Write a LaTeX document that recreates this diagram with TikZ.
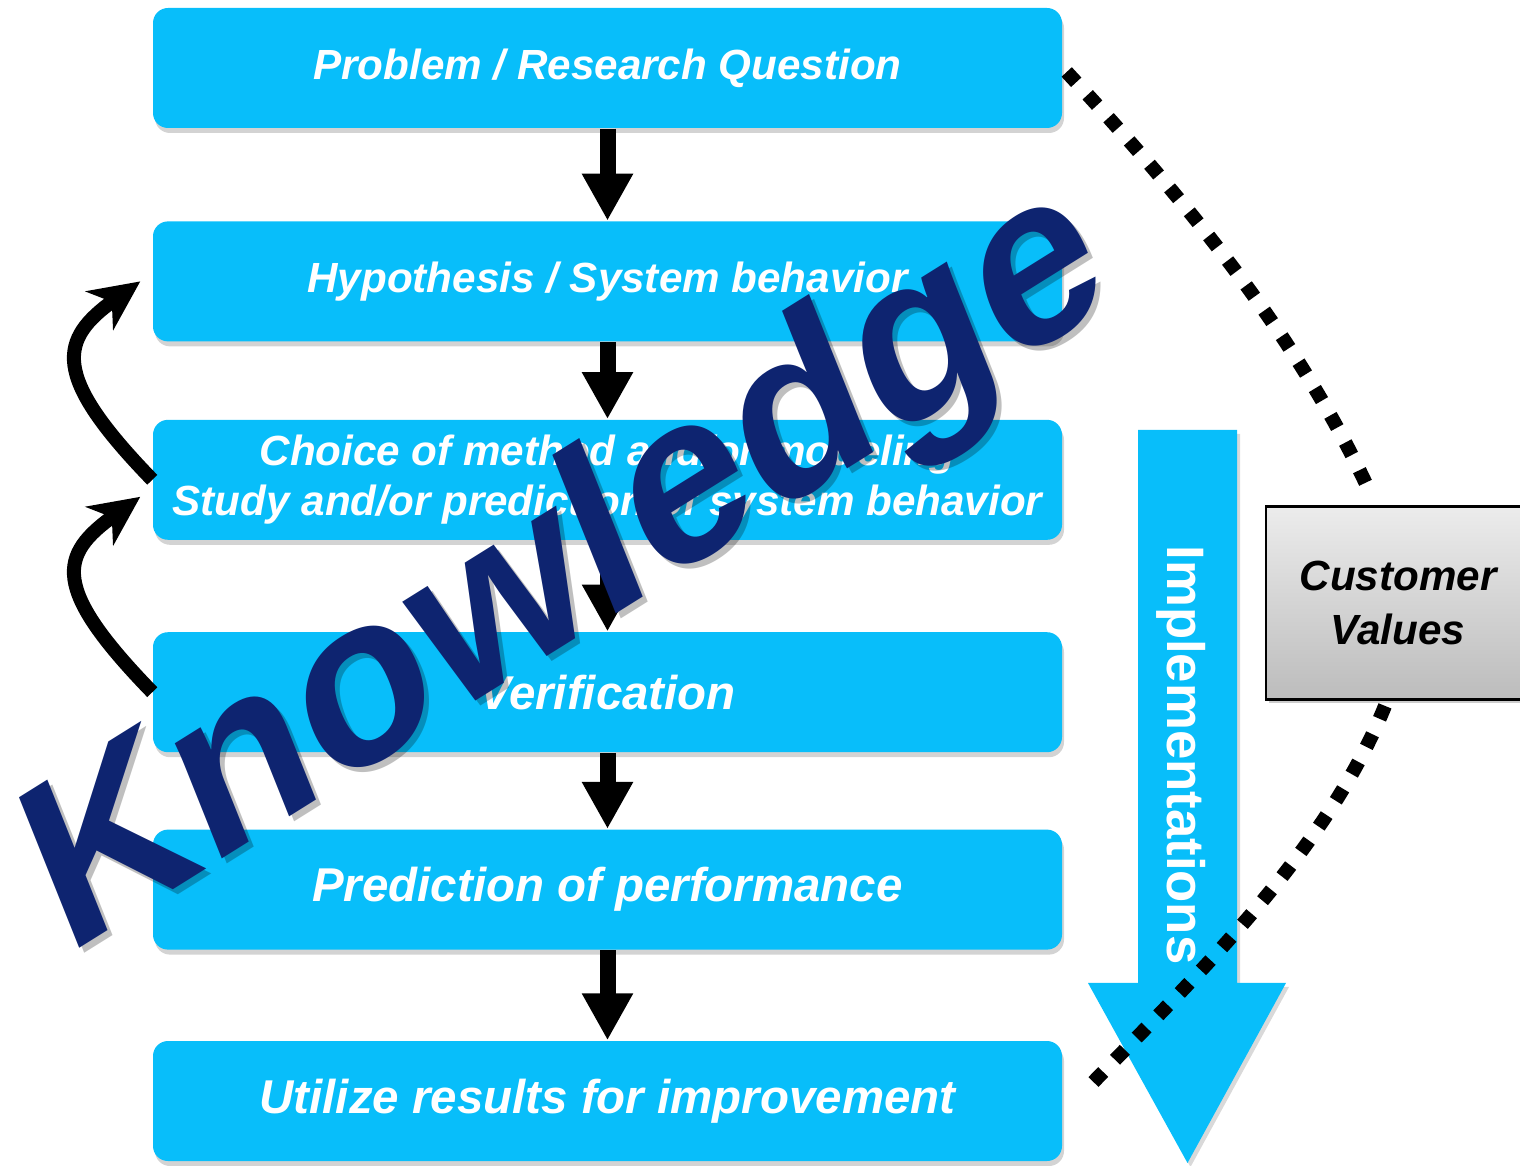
\documentclass[tikz,border=0pt]{standalone}
\usepackage{fontspec}
\setmainfont{Liberation Sans}
\usepackage{tikz}
\usetikzlibrary{arrows.meta,positioning,shadows}
\definecolor{boxcyan}{RGB}{8,190,250}
\definecolor{knownavy}{RGB}{14,36,112}
\definecolor{cvtop}{RGB}{236,236,236}
\definecolor{cvbottom}{RGB}{188,188,188}

\begin{document}
\begin{tikzpicture}[
  stepbox/.style={fill=boxcyan,rounded corners=0.15cm,minimum width=9.09cm,minimum height=1.2cm,
    text=white,font=\fontsize{12}{14.2}\selectfont\bfseries\itshape,align=center,
    drop shadow={shadow xshift=0.02cm,shadow yshift=-0.05cm,opacity=0.35}},
  bigbox/.style={stepbox,font=\fontsize{13.5}{16}\selectfont\bfseries\itshape},
  flow/.style={line width=0.16cm,-{Triangle[length=0.47cm,width=0.48cm]}},
  loopback/.style={line width=0.14cm,-{Stealth[length=0.5cm,width=0.47cm,inset=0.15cm]}},
  dots/.style={line width=0.14cm,dash pattern=on 0.14cm off 0.17cm},
  bigword/.style={rotate=32,xslant=0.18,anchor=base west,inner sep=0,
    font=\fontsize{66}{66}\selectfont\bfseries}
]
\useasboundingbox (0,0) rectangle (15.2,11.66);

% steps, top to bottom
\node[stepbox] (p1) at (6.075,10.98) {Problem / Research Question};
\node[stepbox,below=0.92cm of p1] (p2) {Hypothesis / System behavior};
\node[stepbox,below=0.77cm of p2] (p3) {Choice of method and/or modeling\\Study and/or prediction of system behavior};
\node[bigbox,below=0.91cm of p3] (p4) {Verification};
\node[bigbox,below=0.76cm of p4] (p5) {Prediction of performance};
\node[bigbox,below=0.90cm of p5] (p6) {Utilize results for improvement};

\draw[flow] (p1) -- (p2);
\draw[flow] (p2) -- (p3);
\draw[flow] (p3) -- (p4);
\draw[flow] (p4) -- (p5);
\draw[flow] (p5) -- (p6);

% feedback on the left
\draw[loopback] (p3.west) .. controls +(-1.02,1.05) and +(-0.81,-0.58) .. ([xshift=-0.12cm]p2.west);
\draw[loopback] (p4.west) .. controls +(-1.02,1.05) and +(-0.81,-0.58) .. ([xshift=-0.12cm,yshift=-0.17cm]p3.west);

% big downward arrow
\fill[boxcyan,drop shadow={shadow xshift=0.03cm,shadow yshift=-0.04cm,opacity=0.3}]
  (11.38,7.36) -- (12.37,7.36) -- (12.37,1.83) -- (12.86,1.83) -- (11.875,0.03)
  -- (10.88,1.83) -- (11.38,1.83) -- cycle;
\node[rotate=-90,anchor=base,text=white,font=\fontsize{15}{18}\selectfont\bfseries] (impl) at (11.67,4.11) {Implementations};

\node[draw=black,line width=0.8pt,top color=cvtop,bottom color=cvbottom,
  minimum width=2.64cm,minimum height=1.93cm,align=center,
  font=\fontsize{12}{15.4}\selectfont\bfseries\itshape,
  drop shadow={shadow xshift=0.03cm,shadow yshift=-0.04cm,opacity=0.4}] (cv) at (13.98,5.63) {Customer\\Values};

\draw[dots] ([xshift=0.04cm,yshift=-0.04cm]p1.east) .. controls +(1.17,-1.26) and +(-0.73,1.56) .. ([xshift=-0.3cm,yshift=0.17cm]cv.north);
\draw[dots] ([xshift=-0.13cm,yshift=-0.05cm]cv.south) .. controls +(-0.6,-1.48) and +(1.11,1.15) .. ([xshift=0.23cm,yshift=0.11cm]p6.east);

% slanted word over everything
\node[bigword,text=black,text opacity=0.25] at (0.71,2.04) {Knowledge};
\node[bigword,text=knownavy] (know) at (0.66,2.09) {Knowledge};
\end{tikzpicture}
\end{document}
